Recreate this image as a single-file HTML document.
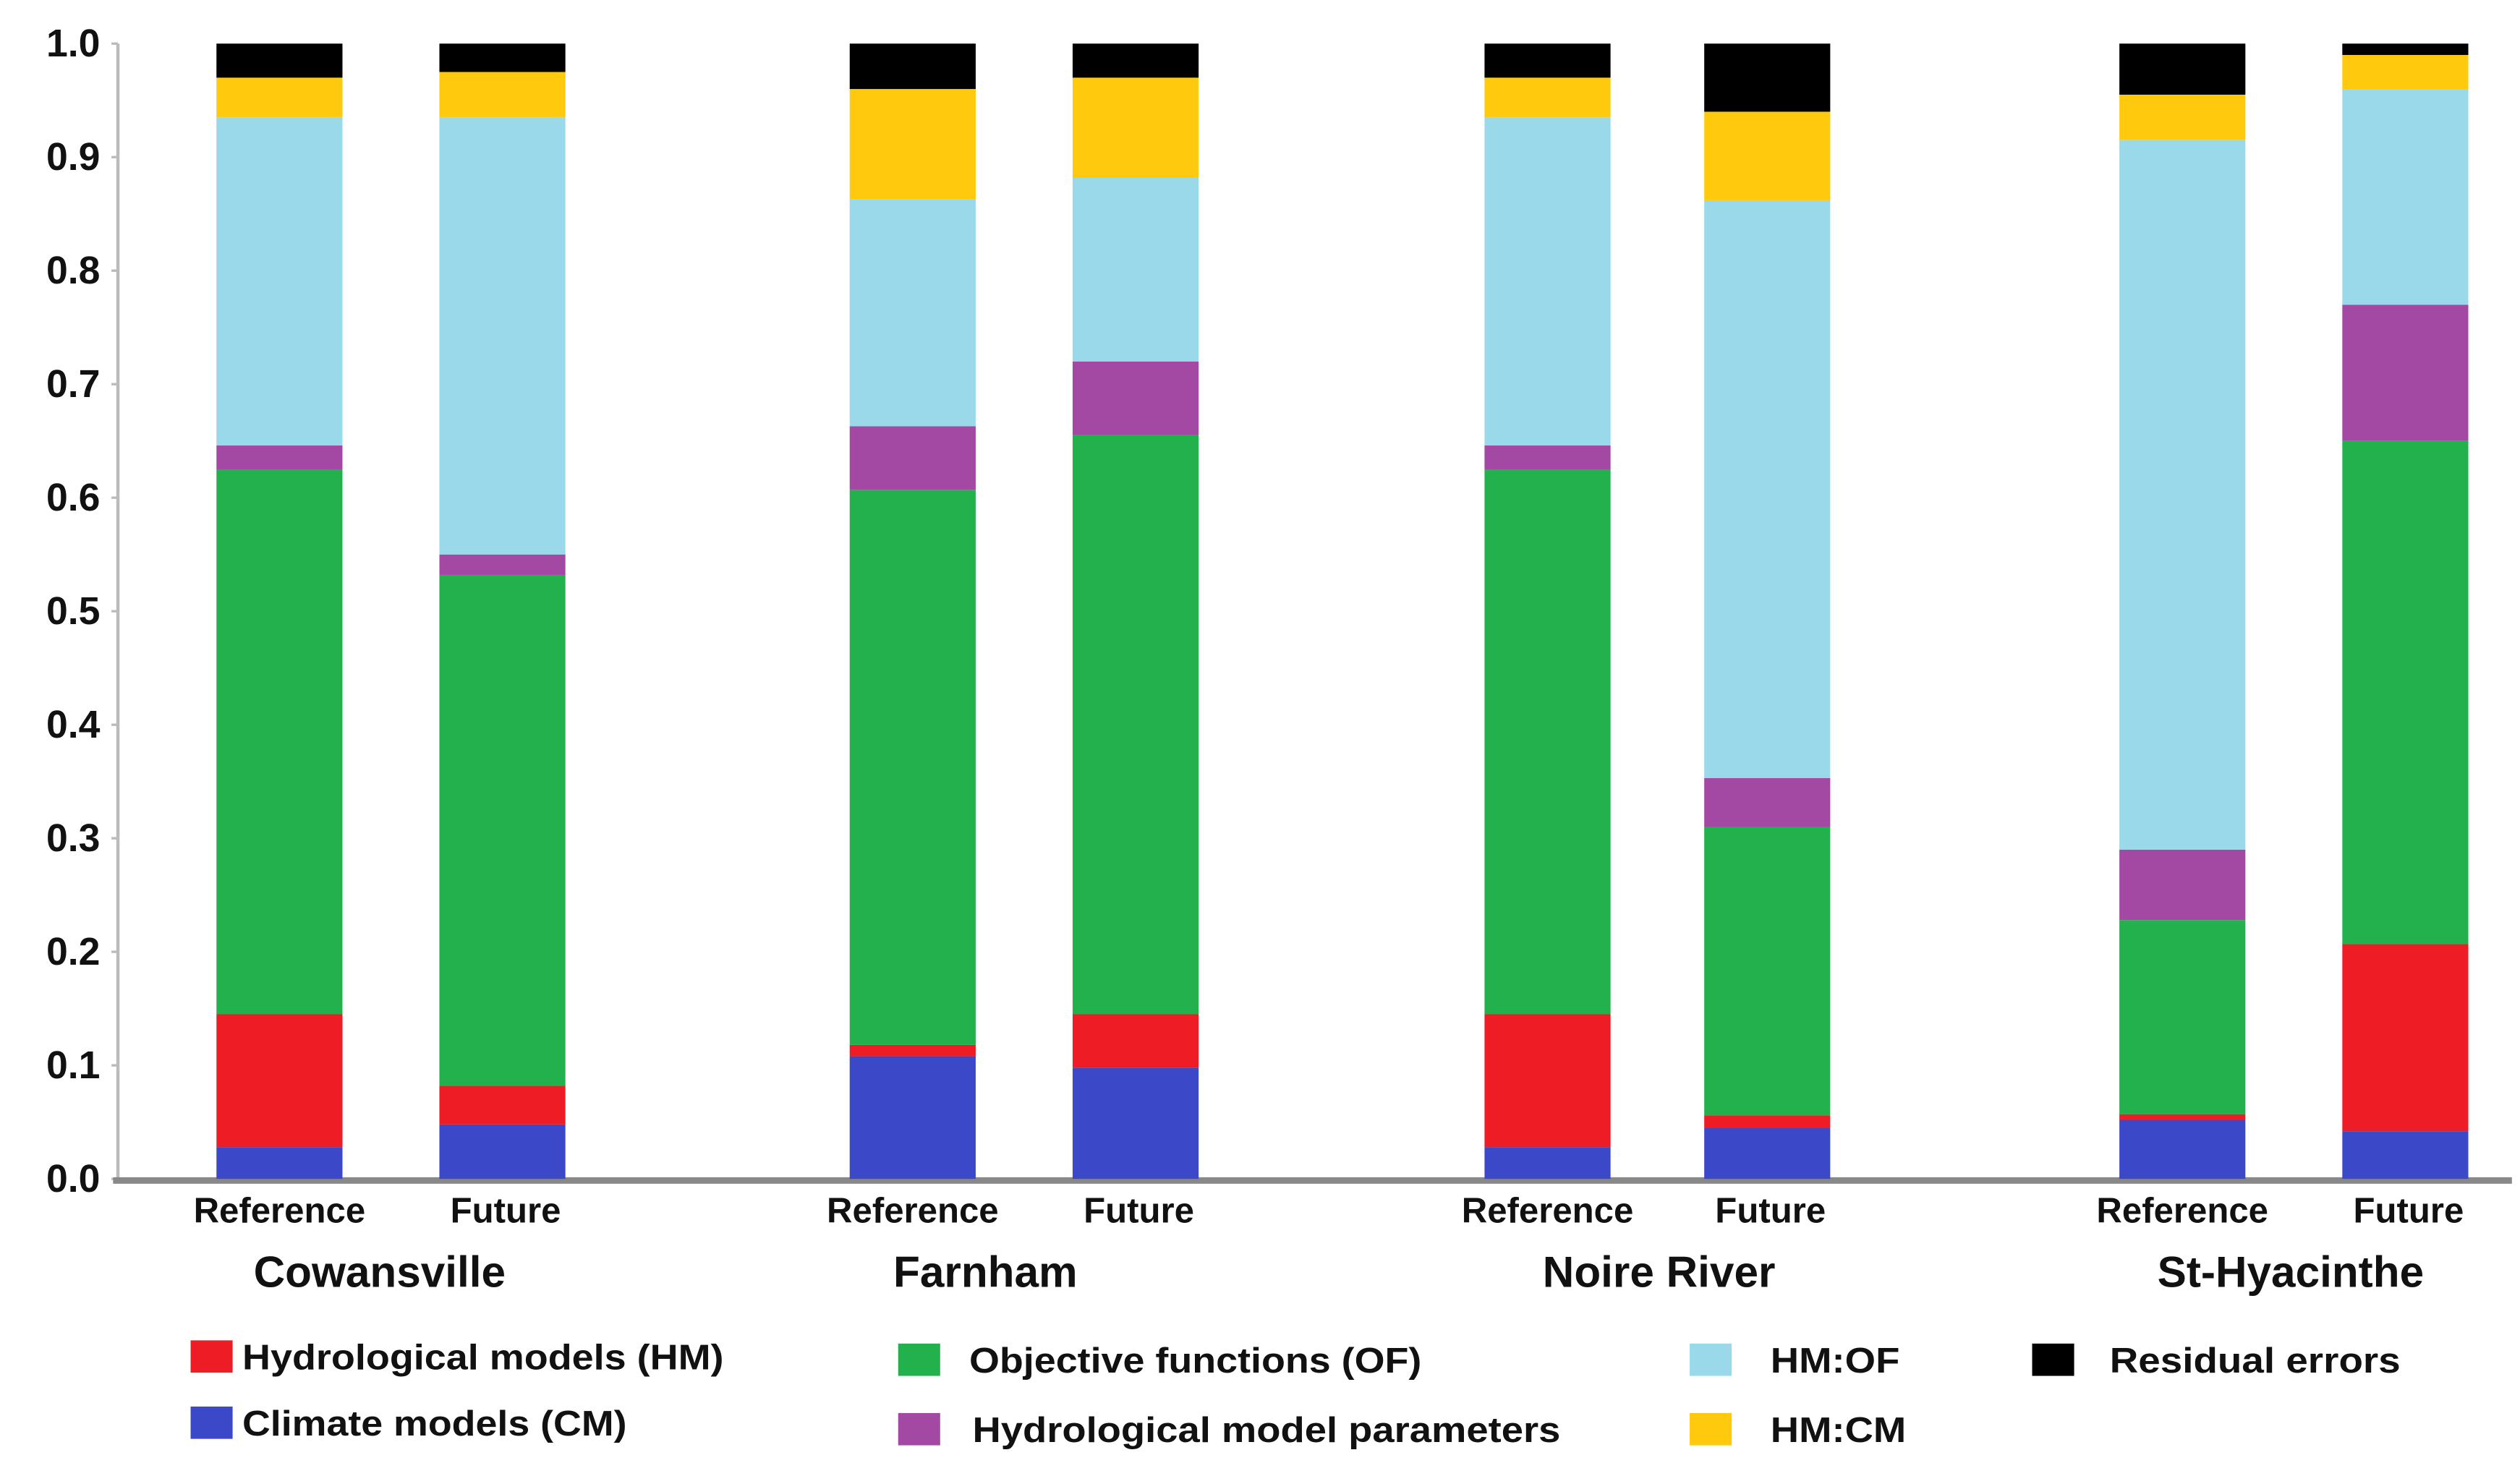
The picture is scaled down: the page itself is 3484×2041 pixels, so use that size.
<!DOCTYPE html>
<html><head><meta charset="utf-8"><style>
html,body{margin:0;padding:0;background:#fff}
svg{display:block}
text{font-family:"Liberation Sans",Arial,sans-serif;font-weight:bold;fill:#111}
</style></head><body>
<svg id="chart" width="3484" height="2041" viewBox="0 0 1560 914" preserveAspectRatio="none" xmlns="http://www.w3.org/2000/svg">
<g id="axes"></g>
<g id="bars"></g>
<g id="labels"></g>
<g id="legend"></g>
</svg>
<script>
const groups = ["Cowansville","Farnham","Noire River","St-Hyacinthe"];
const periods = ["Reference","Future"];
const seriesNames = ["Climate models (CM)","Hydrological models (HM)","Objective functions (OF)","Hydrological model parameters","HM:OF","HM:CM","Residual errors"];
const seriesColors = ["#3b48c8","#ee1c24","#22b14c","#a349a4","#99d9ea","#ffc90e","#000000"];
// values per bar, order: C-Ref, C-Fut, F-Ref, F-Fut, N-Ref, N-Fut, S-Ref, S-Fut
const cmVals   = [0.028,0.048,0.108,0.098,0.028,0.045,0.052,0.042];
const hmVals   = [0.117,0.034,0.010,0.047,0.117,0.011,0.005,0.165];
const ofVals   = [0.480,0.450,0.489,0.510,0.480,0.254,0.171,0.443];
const hmpVals  = [0.021,0.018,0.056,0.065,0.021,0.043,0.062,0.120];
const hmofVals = [0.289,0.385,0.200,0.162,0.289,0.509,0.625,0.190];
const hmcmVals = [0.035,0.040,0.097,0.088,0.035,0.078,0.040,0.030];
const resVals  = [0.030,0.025,0.040,0.030,0.030,0.060,0.045,0.010];
const yTicks = ["0.0","0.1","0.2","0.3","0.4","0.5","0.6","0.7","0.8","0.9","1.0"];

const NS="http://www.w3.org/2000/svg";
function mk(tag,attrs,parent){const e=document.createElementNS(NS,tag);for(const k in attrs)e.setAttribute(k,attrs[k]);parent.appendChild(e);return e;}
const y0=730,y1=27;
function yScale(v){return y0-(y0-y1)*v;}
const barLefts=[134,272,526,664,919,1055,1312,1450];
const barW=78;
function xBar(i){return barLefts[i];}

const axes=document.getElementById('axes');
const yAxis=mk('line',{x1:73,y1:y1,x2:73,y2:y0,stroke:'#bbb','stroke-width':2},axes);


yTicks.forEach((t,i)=>{
  const v=parseFloat(t);
  const tk=mk('line',{x1:69,y1:yScale(v),x2:73,y2:yScale(v),stroke:'#bbb','stroke-width':1.5},axes);
  
  
  const tl=mk('text',{x:62,y:yScale(v)+8,'text-anchor':'end','font-size':24},axes);
  tl.textContent=t;
  
  
});

const bars=document.getElementById('bars');
const allSeries=[cmVals,hmVals,ofVals,hmpVals,hmofVals,hmcmVals,resVals];
for(let b=0;b<8;b++){
  let cum=0;
  allSeries.forEach((arr,s)=>{
    const v=arr[b];
    const top=yScale(cum+v),bot=yScale(cum);
    const r=mk('rect',{x:xBar(b),y:top,width:barW,height:Math.max(0,bot-top),fill:seriesColors[s]},bars);
    
    
    cum+=v;
  });
}
const xAxis=mk('line',{x1:70,y1:y0+1,x2:1555,y2:y0+1,stroke:'#888','stroke-width':4},axes);



const labels=document.getElementById('labels');
for(let b=0;b<8;b++){
  const t=mk('text',{x:xBar(b)+barW/2-(b%2?-2:0),y:757,'text-anchor':'middle','font-size':22},labels);
  t.textContent=periods[b%2];
  
  
}
const groupX=[235,610,1027,1418];
groups.forEach((g,i)=>{
  const t=mk('text',{x:groupX[i],y:797,'text-anchor':'middle','font-size':27},labels);
  t.textContent=g;
  
  
});

const legend=document.getElementById('legend');
const legItems=[[1,118,150,847,298],[2,556,600,849,280],[4,1046,1096,849,80],[6,1258,1306,849,180],
                [0,118,150,888,238],[3,556,602,892,364],[5,1046,1096,892,84]];
legItems.forEach(([s,sx,tx,ty,tw])=>{
  const sw=mk('rect',{x:sx,y:ty-17,width:26,height:20,fill:seriesColors[s]},legend);
  
  
  const t=mk('text',{x:tx,y:ty+1,'font-size':22,textLength:tw,lengthAdjust:'spacingAndGlyphs'},legend);
  t.textContent=seriesNames[s];
  
  
});
</script>
</body></html>
